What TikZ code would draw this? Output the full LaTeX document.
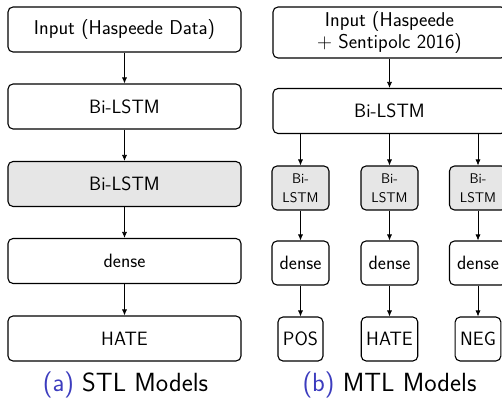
\documentclass[tikz,border=0pt]{standalone}
\usetikzlibrary{arrows.meta,positioning}
\definecolor{capblue}{RGB}{60,60,190}
\definecolor{boxgray}{RGB}{230,230,230}
\begin{document}
\begin{tikzpicture}[x=1pt,y=-1pt,
  font=\sffamily\fontsize{19.3}{22}\selectfont,
  box/.style={draw, line width=1.1pt, rounded corners=5pt, align=center, inner sep=0pt},
  wide/.style={box, minimum width=233pt, minimum height=45pt},
  narrow/.style={box, minimum width=57pt, minimum height=44pt},
  outbox/.style={box, inner xsep=5pt, minimum height=44pt},
  shade/.style={fill=boxgray},
  smallfont/.style={font=\sffamily\fontsize{14}{19}\selectfont},
  inputfont/.style={font=\sffamily\fontsize{20}{22}\selectfont},
  arr/.style={-{Latex[length=6pt,width=5pt]}, line width=0.7pt},
  captext/.style={font=\sffamily\fontsize{26.3}{28}\selectfont}
]
\clip (0,0) rectangle (502,398);
% left: STL
\node[wide,inputfont] (la) at (124.5,29.5) {Input (Haspeede Data)};
\node[wide] (lb) at (124.5,106.5) {Bi-LSTM};
\node[wide,shade] (lc) at (124.5,184) {Bi-LSTM};
\node[wide] (ld) at (124.5,261) {dense};
\node[wide] (le) at (124.5,338.5) {HATE};
\draw[arr] (la) -- (lb);
\draw[arr] (lb) -- (lc);
\draw[arr] (lc) -- (ld);
\draw[arr] (ld) -- (le);
\node[captext] (lcap) at (125.5,385) {\textcolor{capblue}{(a)} STL Models};
% right: MTL
\node[wide,inputfont, minimum height=51pt] (ra) at (389.5,32.5) {Input (Haspeede\\$+$ Sentipolc 2016)};
\node[wide] (rb) at (389.5,111) {Bi-LSTM};
\node[narrow,shade,smallfont] (s1) at (300.5,188) {Bi-\\LSTM};
\node[narrow,shade,smallfont] (s2) at (389.5,188) {Bi-\\LSTM};
\node[narrow,shade,smallfont] (s3) at (478,188) {Bi-\\LSTM};
\node[narrow] (d1) at (300.5,263) {dense};
\node[narrow] (d2) at (389.5,263) {dense};
\node[narrow] (d3) at (478,263) {dense};
\node[outbox] (o1) at (300.5,339) {POS};
\node[outbox] (o2) at (389.5,339) {HATE};
\node[outbox] (o3) at (478,339) {NEG};
\draw[arr] (ra) -- (rb);
\foreach \i in {1,2,3}{
  \draw[arr] (rb.south -| s\i.north) -- (s\i.north);
  \draw[arr] (s\i) -- (d\i);
  \draw[arr] (d\i) -- (o\i);
}
\node[captext] (rcap) at (389.5,385) {\textcolor{capblue}{(b)} MTL Models};
\end{tikzpicture}
\end{document}
